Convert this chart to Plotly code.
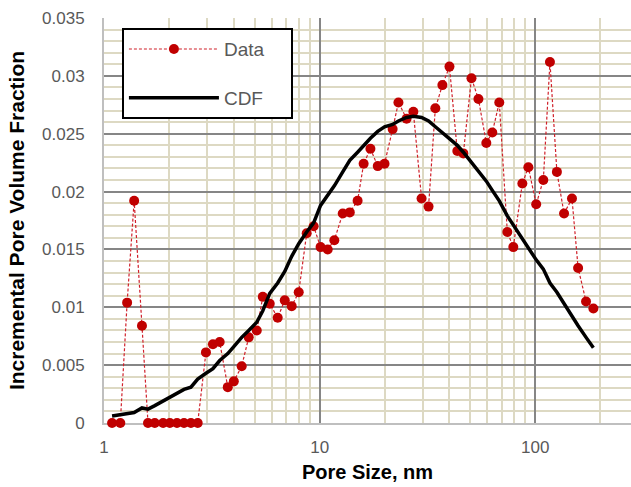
import plotly.graph_objects as go

# Pore size (nm)
pore_size = [1.09, 1.19, 1.28, 1.38, 1.50, 1.60, 1.72, 1.88, 2.02, 2.18, 2.35, 2.53, 2.72,
             2.97, 3.20, 3.44, 3.75, 4.00, 4.35, 4.69, 5.11, 5.45, 5.87, 6.39, 6.89, 7.42,
             8.00, 8.71, 9.38, 10.1, 10.9, 11.7, 12.8, 13.8, 15.0, 16.0, 17.2, 18.6, 20.0,
             21.8, 23.2, 25.3, 27.2, 29.7, 32.0, 34.4, 37.1, 40.0, 43.5, 46.4, 50.6, 54.5,
             59.3, 63.2, 68.1, 74.2, 79.1, 87.1, 92.9, 101, 109, 117, 126, 136, 148, 158,
             172, 186]

# Incremental pore volume fraction (Data)
data_vals = [0, 0, 0.0104, 0.0192, 0.0084, 0, 0, 0, 0, 0, 0, 0, 0,
             0.0061, 0.0068, 0.0070, 0.0031, 0.0036, 0.0049, 0.0074, 0.0080, 0.0109, 0.0103,
             0.0091, 0.0106, 0.0101, 0.0113, 0.0164, 0.0170, 0.0152, 0.0150, 0.0158, 0.0181,
             0.0182, 0.0192, 0.0224, 0.0237, 0.0222, 0.0224, 0.0254, 0.0277, 0.0263, 0.0269,
             0.0194, 0.0187, 0.0272, 0.0292, 0.0308, 0.0235, 0.0233, 0.0298, 0.0280, 0.0242,
             0.0251, 0.0277, 0.0165, 0.0152, 0.0207, 0.0221, 0.0189, 0.0210, 0.0312, 0.0217,
             0.0181, 0.0194, 0.0134, 0.0105, 0.0099]

# CDF curve
cdf_vals = [0.0006, 0.0007, 0.0008, 0.0009, 0.0013, 0.0012, 0.0015, 0.0019, 0.0022, 0.0025,
            0.0029, 0.0031, 0.0038, 0.0043, 0.0047, 0.0054, 0.0060, 0.0066, 0.0074, 0.0080,
            0.0087, 0.0097, 0.0112, 0.0121, 0.0131, 0.0144, 0.0155, 0.0165, 0.0173, 0.0188,
            0.0197, 0.0205, 0.0217, 0.0227, 0.0234, 0.0240, 0.0246, 0.0252, 0.0256, 0.0258,
            0.0261, 0.0264, 0.0265, 0.0264, 0.0261, 0.0256, 0.0251, 0.0246, 0.0240, 0.0234,
            0.0225, 0.0218, 0.0209, 0.0201, 0.0192, 0.0179, 0.0171, 0.0160, 0.0152, 0.0141,
            0.0133, 0.0121, 0.0113, 0.0103, 0.0092, 0.0084, 0.0074, 0.0065]

series_names = ["Data", "CDF"]

FONT = "Liberation Sans, Arial, sans-serif"
MAJOR = "#868686"
MINOR = "#DDD9C3"
PAD = "\u00a0" * 4  # widens the legend box like the reference

fig = go.Figure()
fig.add_trace(go.Scatter(
    x=pore_size, y=data_vals, name=series_names[0] + PAD, mode="lines+markers",
    line=dict(color="#D0202A", width=1.2, dash="3px,2px"),
    marker=dict(color="#C00000", size=10),
    cliponaxis=False, legendgroup="a",
))
fig.add_trace(go.Scatter(
    x=pore_size, y=cdf_vals, name=series_names[1] + PAD, mode="lines",
    line=dict(color="black", width=3.5),
    cliponaxis=False, legendgroup="b",
))

fig.update_layout(
    width=631, height=487,
    margin=dict(l=104, r=0, t=18, b=64),
    paper_bgcolor="white", plot_bgcolor="white",
    font=dict(family=FONT, color="#595959", size=17),
    showlegend=True,
    legend=dict(
        x=0.034, y=0.975, xanchor="left", yanchor="top",
        bgcolor="white", bordercolor="black", borderwidth=2,
        font=dict(size=19, color="#595959", family=FONT),
        traceorder="grouped", tracegroupgap=21, itemwidth=90,
    ),
    xaxis=dict(
        type="log", range=[0, 2.444], dtick=1,
        showgrid=True, gridcolor=MAJOR, gridwidth=2,
        minor=dict(showgrid=True, gridcolor=MINOR, gridwidth=2, dtick="D1"),
        showline=True, linecolor="#BFBFBF", linewidth=2,
        zeroline=False, ticks="", ticklabelstandoff=8,
        tickfont=dict(size=17, color="#595959"),
        title=dict(text="<b>Pore Size, nm</b>", font=dict(size=20, color="black"), standoff=9),
        layer="below traces",
    ),
    yaxis=dict(
        range=[0, 0.035], dtick=0.005, tick0=0,
        showgrid=True, gridcolor=MAJOR, gridwidth=2,
        minor=dict(showgrid=True, gridcolor=MINOR, gridwidth=2, dtick=0.001),
        showline=True, linecolor="#BFBFBF", linewidth=2,
        zeroline=False, ticks="", ticklabelstandoff=14,
        tickfont=dict(size=17, color="#595959"),
        title=dict(text="<b>Incremental Pore Volume Fraction</b>", font=dict(size=21, color="black"), standoff=12),
    ),
)

fig.write_html("out.html")
